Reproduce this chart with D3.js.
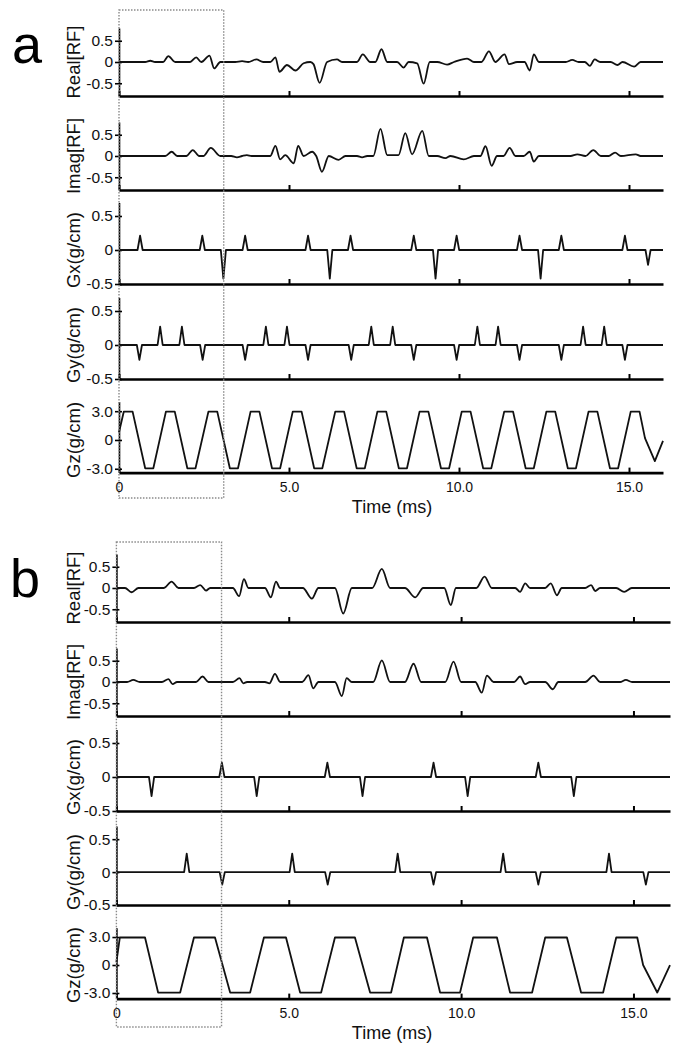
<!DOCTYPE html>
<html>
<head>
<meta charset="utf-8">
<script src="https://cdn.jsdelivr.net/npm/d3@7"></script>
<style>
    body { margin: 0; background: #fff; }
    svg { display: block; font-family: "Liberation Sans", Arial, sans-serif; }
</style>
</head>
<body>
<svg width="683" height="1050"></svg>
<script>
// ---- values (time in ms) ----
var rowNames = ["Real[RF]", "Imag[RF]", "Gx(g/cm)", "Gy(g/cm)", "Gz(g/cm)"];
var timeTicks = [0, 5, 10, 15];
var timeTickLabels = ["0", "5.0", "10.0", "15.0"];
var rfTicks = [-0.5, 0, 0.5];
var rfTickLabels = ["-0.5", "0", "0.5"];
var gzTicks = [-3, 0, 3];
var gzTickLabels = ["-3.0", "0", "3.0"];

var realA = [[0,0],[0.77,0],[0.92,0.03],[1.06,0],[1.30,0],[1.45,0.14],[1.65,0],[2.09,0],[2.27,0.11],[2.42,0],
    [2.66,0.15],[2.80,-0.15],[2.98,0],[3.42,0],[3.62,0.02],[3.80,0],[4.04,0.06],[4.24,0],[4.45,0],[4.60,0.11],
    [4.72,-0.23],[4.94,-0.07],[5.19,-0.2],[5.43,-0.03],[5.63,0],[5.72,-0.05],[5.90,-0.49],[6.12,0],[6.41,0.06],
    [6.56,0],[7.00,0],[7.17,0.18],[7.39,0],[7.54,0],[7.72,0.3],[7.89,0],[8.18,0],[8.37,-0.13],[8.52,0],[8.77,-0.03],
    [8.96,-0.51],[9.14,0],[9.36,0],[9.65,-0.06],[9.85,0],[10.24,0.08],[10.44,0],[10.66,0],[10.88,0.25],[11.07,0],
    [11.34,0.18],[11.47,-0.05],[11.71,0],[11.93,0],[12.08,-0.2],[12.20,0.18],[12.35,0],[13.14,0],[13.33,0.05],
    [13.52,0],[13.70,0],[13.85,-0.09],[13.99,0.06],[14.15,0],[14.46,0],[14.66,-0.07],[14.81,0],[15.15,-0.11],
    [15.34,0],[16,0]];

var imagA = [[0,0],[1.36,0],[1.55,0.1],[1.71,0],[1.98,0],[2.17,0.14],[2.36,0],[2.48,0],[2.70,0.19],[2.98,0],
    [3.30,0],[3.47,-0.03],[3.62,0],[3.76,0.02],[3.90,0],[4.45,0],[4.60,0.24],[4.74,-0.08],[4.89,0.02],[5.14,-0.17],
    [5.27,0.24],[5.43,0],[5.68,0.1],[5.80,0],[5.97,-0.37],[6.17,0],[6.46,-0.09],[6.66,0],[7.00,0],[7.15,-0.03],
    [7.30,0],[7.48,0],[7.69,0.64],[7.89,0.02],[8.22,0.02],[8.42,0.54],[8.62,0.04],[8.92,0.59],[9.11,0],[9.36,0],
    [9.60,-0.05],[9.75,0],[10.14,-0.08],[10.44,0],[10.63,0],[10.78,0.23],[10.96,-0.23],[11.12,0],[11.31,0],
    [11.49,0.19],[11.66,0],[11.90,0],[12.08,0.1],[12.20,-0.13],[12.35,0],[13.28,0],[13.48,0.04],[13.72,0],
    [13.95,0.14],[14.17,0],[14.40,0],[14.59,0.08],[14.76,0],[15.20,0.04],[15.34,0],[16,0]];

var realB = [[0,0],[0.25,0],[0.44,-0.1],[0.64,0],[1.38,0],[1.60,0.15],[1.80,0],[2.25,0],[2.43,0.07],[2.60,-0.06],
    [2.72,0],[3.38,0],[3.56,-0.19],[3.70,0.21],[3.83,0],[4.31,0],[4.48,-0.22],[4.63,0.15],[4.75,0],[5.41,0],
    [5.67,-0.25],[5.86,0],[6.34,0],[6.58,-0.6],[6.83,0],[7.42,0],[7.70,0.45],[7.94,0],[8.37,0],[8.67,-0.22],
    [8.90,0],[9.51,0],[9.70,-0.4],[9.85,0],[10.44,0],[10.68,0.27],[10.89,0],[11.57,0],[11.71,-0.09],[11.86,0.11],
    [12.00,0],[12.44,0],[12.60,0.11],[12.78,-0.17],[12.92,0],[13.60,0],[13.77,0.07],[13.89,-0.07],[14.03,0],
    [14.50,0],[14.73,-0.09],[14.95,0],[16.06,0]];

var imagB = [[0,0],[0.31,0],[0.49,0.05],[0.68,0],[1.32,0],[1.51,0.07],[1.63,-0.05],[1.76,0],[2.31,0],[2.50,0.13],
    [2.67,0],[3.38,0],[3.57,0.09],[3.68,-0.03],[3.79,0],[4.31,0],[4.44,-0.03],[4.60,0.19],[4.75,0],[5.39,0],
    [5.57,0.16],[5.71,-0.15],[5.86,0],[6.34,0],[6.54,-0.33],[6.68,0.09],[6.83,0],[7.45,0],[7.70,0.51],[7.94,0],
    [8.37,0],[8.62,0.43],[8.84,0],[9.54,0],[9.78,0.48],[10.00,0],[10.41,0],[10.60,-0.25],[10.75,0.15],[10.94,0],
    [11.54,0],[11.71,0.13],[11.86,-0.05],[12.00,0],[12.44,0],[12.66,-0.17],[12.82,0],[13.60,0],[13.84,0.15],
    [14.03,0],[14.61,0],[14.78,0.05],[14.96,0],[16.06,0]];

// gradient blips: [time, peak]
var gxA = [[0.62,0.21],[2.45,0.21],[3.07,-0.42],[3.71,0.21],[5.56,0.21],[6.20,-0.42],[6.81,0.21],[8.67,0.21],
    [9.31,-0.42],[9.93,0.21],[11.78,0.21],[12.40,-0.42],[13.01,0.21],[14.88,0.21],[15.56,-0.22]];
var gyA = [[0.60,-0.22],[1.21,0.27],[1.85,0.27],[2.46,-0.22],[3.71,-0.22],[4.32,0.27],[4.94,0.27],[5.56,-0.22],
    [6.83,-0.22],[7.42,0.27],[8.05,0.27],[8.67,-0.22],[9.93,-0.22],[10.54,0.27],[11.15,0.27],[11.78,-0.22],
    [13.01,-0.22],[13.65,0.27],[14.27,0.27],[14.88,-0.22]];
var gxB = [[1.02,-0.28],[3.06,0.21],[4.07,-0.28],[6.12,0.21],[7.14,-0.28],[9.20,0.21],[10.19,-0.28],
    [12.24,0.21],[13.27,-0.28]];
var gyB = [[2.04,0.28],[3.07,-0.19],[5.10,0.28],[6.13,-0.19],[8.16,0.28],[9.20,-0.19],[11.22,0.28],
    [12.24,-0.19],[14.29,0.28],[15.36,-0.19]];
var blipHalfWidth = 0.075;

// Gz trapezoid corners
var gzA = [[0,0.8],[0.14,2.95],[0.40,2.95],[0.77,-2.95],[1.01,-2.95],[1.38,2.95],[1.64,2.95],[2.01,-2.95],
    [2.25,-2.95],[2.63,2.95],[2.89,2.95],[3.26,-2.95],[3.50,-2.95],[3.87,2.95],[4.13,2.95],[4.50,-2.95],
    [4.74,-2.95],[5.11,2.95],[5.37,2.95],[5.74,-2.95],[5.98,-2.95],[6.36,2.95],[6.62,2.95],[6.99,-2.95],
    [7.23,-2.95],[7.60,2.95],[7.86,2.95],[8.23,-2.95],[8.47,-2.95],[8.84,2.95],[9.10,2.95],[9.47,-2.95],
    [9.71,-2.95],[10.08,2.95],[10.34,2.95],[10.71,-2.95],[10.95,-2.95],[11.33,2.95],[11.59,2.95],[11.96,-2.95],
    [12.20,-2.95],[12.57,2.95],[12.83,2.95],[13.20,-2.95],[13.44,-2.95],[13.81,2.95],[14.07,2.95],[14.44,-2.95],
    [14.68,-2.95],[15.05,2.95],[15.31,2.95],[15.47,0.2],[15.76,-2.2],[16.0,-0.1]];
var gzB = [[0,0.3],[0.10,2.95],[0.83,2.95],[1.21,-2.95],[1.85,-2.95],[2.25,2.95],[2.86,2.95],[3.30,-2.95],
    [3.88,-2.95],[4.28,2.95],[4.92,2.95],[5.33,-2.95],[5.94,-2.95],[6.34,2.95],[6.92,2.95],[7.36,-2.95],
    [7.97,-2.95],[8.34,2.95],[9.01,2.95],[9.39,-2.95],[9.97,-2.95],[10.35,2.95],[11.04,2.95],[11.42,-2.95],
    [12.06,-2.95],[12.44,2.95],[13.07,2.95],[13.48,-2.95],[14.12,-2.95],[14.50,2.95],[15.11,2.95],[15.28,0],
    [15.69,-2.95],[16.06,0]];

// ---- layout ----
var svg = d3.select("svg");

var panels = [
    {name: "a", tmax: 16, x0: 119, x1: 663, letter: [12, 63], box: [3.08, 10, 498],
        series: [realA, imagA, gxA, gyA, gzA],
        rows: [[96, 28], [190, 122], [284, 202.4], [379, 297.4], [472.6, 401.6]]},
    {name: "b", tmax: 16.06, x0: 116.4, x1: 670, letter: [10, 597], box: [3.05, 542, 1027],
        series: [realB, imagB, gxB, gyB, gzB],
        rows: [[622, 554], [716, 648], [811, 729.4], [905, 826], [998.6, 927.7]]}
];
var domains = [[-0.8, 0.8], [-0.8, 0.8], [-0.5, 0.7], [-0.5, 0.7], [-3.45, 4.0]];
domains[4] = null; // per panel below
var gzDomains = {a: [-3.4, 4.0], b: [-3.6, 4.0]};

function blipPoints(blips, tmax) {
    var pts = [[0, 0]];
    blips.forEach(function (b) {
        pts.push([b[0] - blipHalfWidth, 0], [b[0], b[1]], [b[0] + blipHalfWidth, 0]);
    });
    pts.push([tmax, 0]);
    return pts;
}

panels.forEach(function (p) {
    var g = svg.append("g");
    var x = d3.scaleLinear().domain([0, p.tmax]).range([p.x0, p.x1]);

    g.append("text")
        .attr("x", p.letter[0]).attr("y", p.letter[1])
        .attr("font-size", 54)
        .text(p.name);

    p.rows.forEach(function (r, i) {
        var dom = i < 4 ? domains[i] : gzDomains[p.name];
        var y = d3.scaleLinear().domain(dom).range(r);
        var row = g.append("g");

        var isGz = i === 4;
        var ticks = isGz ? gzTicks : rfTicks;
        var labels = isGz ? gzTickLabels : rfTickLabels;

        var yAxis = d3.axisLeft(y)
            .tickValues(ticks)
            .tickFormat(function (d, k) { return labels[k]; })
            .tickSizeInner(4).tickSizeOuter(0).tickPadding(2);
        var ya = row.append("g").attr("transform", "translate(" + p.x0 + ",0)").call(yAxis);
        ya.select(".domain").attr("stroke", "#000").attr("stroke-width", 1.6);
        ya.selectAll(".tick line").attr("stroke", "#000").attr("stroke-width", 1.6).attr("x2", -4).attr("x1", 3);
        ya.selectAll("text").attr("font-size", 15.5).attr("fill", "#111")
            .attr("font-family", "'Liberation Sans', Arial, sans-serif");

        var last = i === 4;
        var xAxis = d3.axisBottom(x)
            .tickValues(timeTicks)
            .tickFormat(function (d, k) { return last ? timeTickLabels[k] : ""; })
            .tickSizeInner(-5).tickSizeOuter(0).tickPadding(9);
        var xa = row.append("g").attr("transform", "translate(0," + r[0] + ")").call(xAxis);
        xa.select(".domain").attr("stroke", "#000").attr("stroke-width", 2.6);
        xa.selectAll(".tick line").attr("stroke", "#000").attr("stroke-width", 2);
        xa.selectAll("text").attr("font-size", 14).attr("fill", "#111")
            .attr("font-family", "'Liberation Sans', Arial, sans-serif");

        var data = p.series[i];
        if (i === 2 || i === 3) data = blipPoints(data, p.tmax);

        var line = d3.line()
            .x(function (d) { return x(d[0]); })
            .y(function (d) { return y(d[1]); })
            .curve(i < 2 ? d3.curveMonotoneX : d3.curveLinear);

        row.append("path")
            .datum(data)
            .attr("fill", "none")
            .attr("stroke", "#111")
            .attr("stroke-width", 1.8)
            .attr("stroke-linejoin", "round")
            .attr("d", line);

        // rotated row title, centred on the zero line
        row.append("text")
            .attr("transform", "translate(80," + y(0) + ") rotate(-90)")
            .attr("text-anchor", "middle")
            .attr("font-size", 18.5)
            .attr("fill", "#111")
            .text(rowNames[i]);

        if (last) {
            g.append("text")
                .attr("x", 392).attr("y", r[0] + 40.5)
                .attr("text-anchor", "middle")
                .attr("font-size", 18)
                .attr("fill", "#111")
                .text("Time (ms)");
        }
    });

    // dotted box marking the first 3 ms
    g.append("rect")
        .attr("x", x(0)).attr("y", p.box[1])
        .attr("width", x(p.box[0]) - x(0))
        .attr("height", p.box[2] - p.box[1])
        .attr("fill", "none")
        .attr("stroke", "#8a8a8a")
        .attr("stroke-width", 1.4)
        .attr("stroke-dasharray", "1.5,1.5");
});
</script>
</body>
</html>
